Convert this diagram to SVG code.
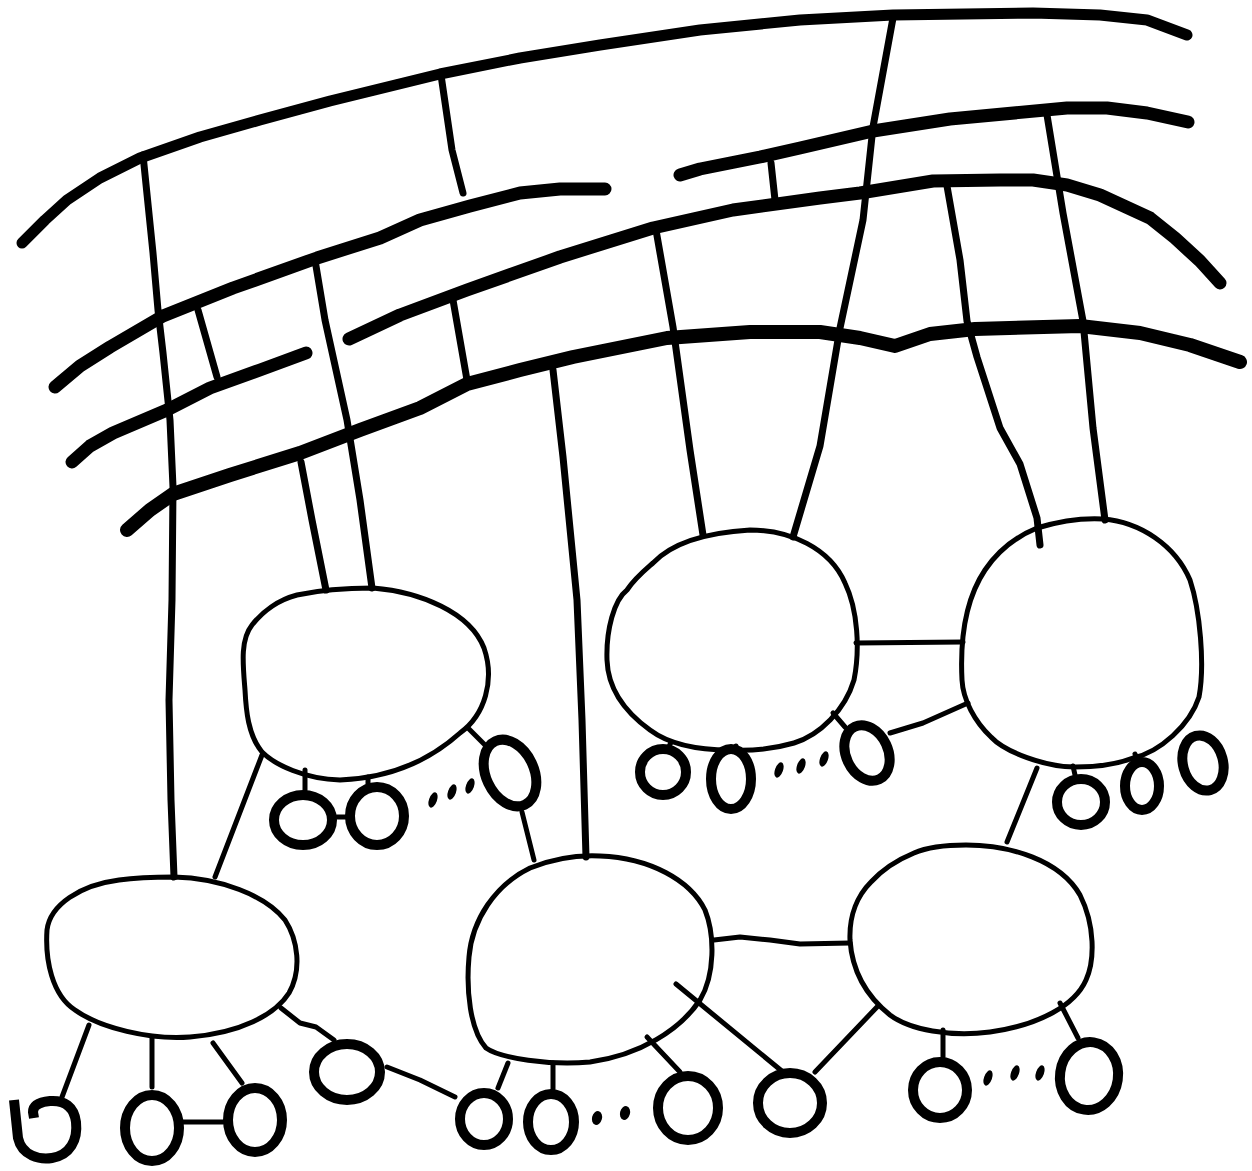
<svg xmlns="http://www.w3.org/2000/svg" width="1252" height="1171" viewBox="0 0 1252 1171">
<style>
.bus{fill:none;stroke:#000;stroke-linecap:round;stroke-linejoin:round}
.w1{stroke-width:11}
.w2{stroke-width:13}
.w3{stroke-width:14}
.tap{fill:none;stroke:#000;stroke-width:7;stroke-linecap:round;stroke-linejoin:round}
.node{fill:none;stroke:#000;stroke-width:5;stroke-linejoin:round}
.leaf{fill:none;stroke:#000;stroke-width:10}
.link{fill:none;stroke:#000;stroke-width:5;stroke-linecap:round;stroke-linejoin:round}
.dot{fill:#000}
</style>
<rect width="1252" height="1171" fill="#fff"/>

<g id="bus1"><path class="bus w1" d="M22,243 L45,220 L67,200 L100,178 L140,158 L200,137 L260,120 L330,101 L440,74 L520,58 L600,45 L700,30 L800,20 L893,15 L1033,13 L1100,15 L1147,20 L1187,35"/></g>
<g id="bus2"><path class="bus w2" d="M55,387 L80,366 L110,347 L163,316 L233,288 L317,258 L380,238 L420,220 L470,206 L520,193 L560,189 L605,189"/>
<path class="bus w2" d="M680,175 L700,169 L760,157 L800,148 L873,131 L950,119 L1067,108 L1107,108 L1147,113 L1188,122"/></g>
<g id="bus3"><path class="bus w2" d="M72,462 L90,446 L113,433 L167,410 L210,388 L260,370 L306,353"/>
<path class="bus w2" d="M349,339 L400,315 L467,290 L560,257 L653,228 L733,210 L820,198 L860,193 L933,181 L1000,180 L1033,180 L1067,185 L1100,195 L1150,218 L1175,238 L1200,261 L1220,283"/></g>
<g id="bus4"><path class="bus w3" d="M127,530 L150,510 L173,494 L230,475 L300,453 L360,430 L420,408 L467,384 L520,370 L573,357 L667,338 L750,332 L820,332 L860,338 L895,346 L930,334 L975,329 L1080,326 L1140,333 L1190,345 L1240,362"/></g>

<g id="connectors">
<path class="tap" d="M143,155 L153,253 L158,310 L163,353 L170,420 L173,487 L172,600 L169,700 L171,800 L174,877"/>
<path class="tap" d="M198,310 L217,377"/>
<path class="tap" d="M315,260 L325,320 L347,420 L360,500 L372,588"/>
<path class="tap" d="M301,462 L312,520 L326,590"/>
<path class="tap" d="M441,75 L452,150 L463,193"/>
<path class="tap" d="M453,300 L467,380"/>
<path class="tap" d="M553,370 L563,457 L577,600 L582,720 L586,857"/>
<path class="tap" d="M771,163 L775,200"/>
<path class="tap" d="M656,230 L673,327 L690,450 L703,535"/>
<path class="tap" d="M893,18 L873,127 L863,220 L840,328 L820,446 L793,537"/>
<path class="tap" d="M947,186 L960,260 L967,321 L977,357 L1000,428 L1020,464 L1037,518 L1040,545"/>
<path class="tap" d="M1047,115 L1063,213 L1083,321 L1093,428 L1105,520"/>
<path class="link" d="M262,755 L215,877"/>
<path class="link" d="M305,770 L305,790"/>
<path class="link" d="M368,777 L368,790"/>
<path class="link" d="M337,817 L347,817"/>
<path class="link" d="M468,728 L485,745"/>
<path class="link" d="M522,812 L534,860"/>
<path class="link" d="M89,1025 L62,1097"/>
<path class="link" d="M152,1037 L152,1087"/>
<path class="link" d="M213,1043 L242,1083"/>
<path class="link" d="M183,1122 L223,1122"/>
<path class="link" d="M281,1008 L300,1023 L316,1027 L334,1040"/>
<path class="link" d="M387,1067 L420,1080 L455,1097"/>
<path class="link" d="M508,1063 L498,1088"/>
<path class="link" d="M553,1063 L553,1089"/>
<path class="link" d="M647,1037 L680,1072"/>
<path class="link" d="M676,984 L783,1072"/>
<path class="link" d="M877,1007 L815,1072"/>
<path class="link" d="M714,940 L740,937 L770,940 L800,944 L850,943"/>
<path class="link" d="M943,1030 L943,1057"/>
<path class="link" d="M1060,1003 L1078,1038"/>
<path class="link" d="M856,643 L963,642"/>
<path class="link" d="M890,733 L923,723 L968,703"/>
<path class="link" d="M1037,768 L1007,842"/>
<path class="link" d="M671,742 L669,747"/>
<path class="link" d="M736,746 L736,750"/>
<path class="link" d="M833,713 L845,727"/>
<path class="link" d="M1073,766 L1075,775"/>
<path class="link" d="M1135,754 L1137,758"/>
</g>

<g id="node-ml"><path class="node" d="M297,595 C320,590 350,588 373,588 C420,592 470,612 484,648 C495,680 485,715 460,733 C430,760 390,778 340,780 C305,779 275,765 262,752 C248,735 246,710 245,690 C243,665 240,640 252,625 C262,612 278,600 297,595 Z"/></g>
<g id="node-bl"><path class="node" d="M174,877 C220,878 265,895 285,920 C298,940 302,970 289,993 C275,1015 240,1033 190,1037 C150,1040 100,1028 75,1010 C52,995 45,960 47,930 C50,905 80,885 119,880 C140,877 160,877 174,877 Z"/></g>
<g id="node-bm"><path class="node" d="M530,868 C555,858 580,855 600,856 C650,858 690,880 705,910 C715,935 715,975 700,1000 C680,1030 640,1055 590,1062 C550,1066 500,1058 486,1048 C470,1030 466,990 469,957 C472,920 495,885 530,868 Z"/></g>
<g id="node-br"><path class="node" d="M914,853 C930,846 950,845 966,845 C1010,845 1060,860 1080,895 C1095,925 1095,960 1086,980 C1075,1005 1040,1025 990,1032 C950,1037 910,1030 890,1015 C865,995 852,970 850,940 C849,915 858,895 871,882 C882,870 897,860 914,853 Z"/></g>
<g id="node-tr1"><path class="node" d="M653,563 C670,545 700,533 750,530 C790,530 830,548 845,583 C858,610 860,650 854,680 C845,710 820,735 794,743 C770,750 750,751 730,750 C700,750 670,745 650,730 C625,712 608,690 607,660 C606,630 614,600 627,590 C635,578 645,570 653,563 Z"/></g>
<g id="node-tr2"><path class="node" d="M1037,528 C1060,521 1085,518 1103,519 C1140,522 1175,545 1190,580 C1200,610 1205,665 1199,697 C1190,725 1160,752 1133,758 C1115,765 1095,767 1075,767 C1045,767 1005,752 991,737 C975,722 963,700 962,680 C960,640 965,600 985,570 C1000,548 1020,535 1037,528 Z"/></g>

<g id="leaf-ml-1"><ellipse class="leaf" cx="303" cy="820" rx="29" ry="25"/></g>
<g id="leaf-ml-2"><ellipse class="leaf" cx="377" cy="816" rx="27" ry="29"/></g>
<g id="dots-ml"><ellipse class="dot" cx="433" cy="800" rx="4" ry="8" transform="rotate(20 433 800)"/><ellipse class="dot" cx="452" cy="792" rx="4" ry="8" transform="rotate(20 452 792)"/><ellipse class="dot" cx="470" cy="786" rx="4" ry="8" transform="rotate(20 470 786)"/></g>
<g id="leaf-ml-3"><ellipse class="leaf" cx="510" cy="773" rx="24" ry="35" transform="rotate(-25 510 773)"/></g>

<g id="leaf-bl-0"><path class="leaf" d="M14,1100 L18,1138 C22,1156 40,1160 52,1158 C70,1155 78,1140 76,1122 C74,1106 64,1100 50,1101 C40,1102 33,1105 33,1112 L34,1118"/></g>
<g id="leaf-bl-1"><ellipse class="leaf" cx="152" cy="1128" rx="27" ry="33"/></g>
<g id="leaf-bl-2"><ellipse class="leaf" cx="255" cy="1120" rx="27" ry="32"/></g>
<g id="leaf-bl-3"><ellipse class="leaf" cx="347" cy="1072" rx="33" ry="28"/></g>
<g id="leaf-bm-1"><ellipse class="leaf" cx="484" cy="1119" rx="24" ry="26"/></g>
<g id="leaf-bm-2"><ellipse class="leaf" cx="551" cy="1122" rx="23" ry="28"/></g>
<g id="dots-bm"><ellipse class="dot" cx="597" cy="1118" rx="5" ry="7" transform="rotate(15 597 1118)"/><ellipse class="dot" cx="625" cy="1113" rx="5" ry="7" transform="rotate(15 625 1113)"/></g>
<g id="leaf-bm-3"><ellipse class="leaf" cx="688" cy="1108" rx="30" ry="32"/></g>
<g id="leaf-br-1"><ellipse class="leaf" cx="790" cy="1103" rx="32" ry="30"/></g>
<g id="leaf-br-2"><ellipse class="leaf" cx="940" cy="1090" rx="27" ry="28"/></g>
<g id="dots-br"><ellipse class="dot" cx="988" cy="1078" rx="4" ry="8" transform="rotate(20 988 1078)"/><ellipse class="dot" cx="1015" cy="1073" rx="4" ry="8" transform="rotate(20 1015 1073)"/><ellipse class="dot" cx="1040" cy="1073" rx="4" ry="8" transform="rotate(20 1040 1073)"/></g>
<g id="leaf-br-3"><ellipse class="leaf" cx="1089" cy="1076" rx="29" ry="34" transform="rotate(8 1089 1076)"/></g>

<g id="leaf-tr1-1"><ellipse class="leaf" cx="663" cy="772" rx="23" ry="23"/></g>
<g id="leaf-tr1-2"><ellipse class="leaf" cx="731" cy="779" rx="20" ry="30"/></g>
<g id="dots-tr1"><ellipse class="dot" cx="779" cy="770" rx="4" ry="8" transform="rotate(20 779 770)"/><ellipse class="dot" cx="801" cy="766" rx="4" ry="8" transform="rotate(20 801 766)"/><ellipse class="dot" cx="824" cy="759" rx="4" ry="8" transform="rotate(20 824 759)"/></g>
<g id="leaf-tr1-3"><ellipse class="leaf" cx="867" cy="753" rx="21" ry="29" transform="rotate(-25 867 753)"/></g>
<g id="leaf-tr2-1"><ellipse class="leaf" cx="1081" cy="802" rx="24" ry="23"/></g>
<g id="leaf-tr2-2"><ellipse class="leaf" cx="1142" cy="786" rx="17" ry="24"/></g>
<g id="leaf-tr2-3"><ellipse class="leaf" cx="1203" cy="763" rx="20" ry="28" transform="rotate(-15 1203 763)"/></g>
</svg>
